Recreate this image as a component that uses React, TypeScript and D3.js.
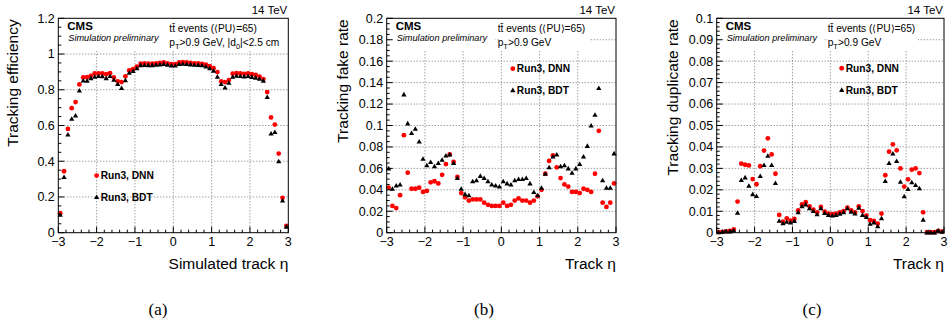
import React from "react";
import * as d3 from "d3";

// bin centres in eta (0.1 wide bins, -3..3)
const eta = [
  -2.95, -2.85, -2.75, -2.65, -2.55, -2.45, -2.35, -2.25, -2.15, -2.05,
  -1.95, -1.85, -1.75, -1.65, -1.55, -1.45, -1.35, -1.25, -1.15, -1.05,
  -0.95, -0.85, -0.75, -0.65, -0.55, -0.45, -0.35, -0.25, -0.15, -0.05,
  0.05, 0.15, 0.25, 0.35, 0.45, 0.55, 0.65, 0.75, 0.85, 0.95,
  1.05, 1.15, 1.25, 1.35, 1.45, 1.55, 1.65, 1.75, 1.85, 1.95,
  2.05, 2.15, 2.25, 2.35, 2.45, 2.55, 2.65, 2.75, 2.85, 2.95,
];

const effDnn = [
  0.109, 0.344, 0.581, 0.697, 0.731, 0.83, 0.869, 0.87, 0.878, 0.891,
  0.891, 0.891, 0.887, 0.893, 0.869, 0.847, 0.843, 0.875, 0.908, 0.915,
  0.93, 0.946, 0.947, 0.946, 0.946, 0.948, 0.951, 0.953, 0.948, 0.944,
  0.944, 0.953, 0.955, 0.953, 0.95, 0.948, 0.947, 0.945, 0.94, 0.932,
  0.921, 0.899, 0.847, 0.843, 0.854, 0.89, 0.893, 0.891, 0.889, 0.891,
  0.887, 0.883, 0.874, 0.86, 0.787, 0.645, 0.605, 0.443, 0.195, 0.038,
];
const effBdt = [
  0.1, 0.312, 0.55, 0.638, 0.656, 0.796, 0.852, 0.85, 0.865, 0.873,
  0.877, 0.876, 0.865, 0.877, 0.856, 0.832, 0.81, 0.854, 0.895, 0.905,
  0.92, 0.938, 0.939, 0.938, 0.938, 0.94, 0.942, 0.944, 0.94, 0.936,
  0.936, 0.944, 0.946, 0.944, 0.942, 0.94, 0.939, 0.937, 0.93, 0.92,
  0.907, 0.873, 0.832, 0.813, 0.839, 0.873, 0.879, 0.877, 0.875, 0.877,
  0.872, 0.868, 0.862, 0.851, 0.759, 0.555, 0.564, 0.4, 0.18, 0.034,
];

const fakeDnn = [
  0.042, 0.025, 0.023, 0.035, 0.091, 0.056, 0.041, 0.041, 0.042, 0.038,
  0.039, 0.047, 0.048, 0.046, 0.054, 0.064, 0.073, 0.066, 0.052, 0.037,
  0.033, 0.03, 0.031, 0.031, 0.031, 0.028, 0.026, 0.025, 0.025, 0.025,
  0.028, 0.025, 0.026, 0.03, 0.032, 0.03, 0.03, 0.028, 0.03, 0.034,
  0.04, 0.055, 0.067, 0.072, 0.061, 0.051, 0.045, 0.043, 0.038, 0.038,
  0.037, 0.041, 0.04, 0.038, 0.055, 0.095, 0.028, 0.024, 0.028, 0.046,
];
const fakeBdt = [
  0.06, 0.041, 0.044, 0.045, 0.129, 0.102, 0.093, 0.097, 0.085, 0.069,
  0.063, 0.066, 0.062, 0.065, 0.068, 0.072, 0.073, 0.065, 0.051, 0.041,
  0.036, 0.035, 0.048, 0.049, 0.053, 0.051, 0.048, 0.045, 0.044, 0.043,
  0.048, 0.046, 0.045, 0.049, 0.05, 0.05, 0.051, 0.046, 0.038, 0.035,
  0.042, 0.055, 0.061, 0.071, 0.073, 0.062, 0.063, 0.06, 0.056, 0.06,
  0.064, 0.071, 0.081, 0.1, 0.11, 0.135, 0.049, 0.042, 0.042, 0.074,
];

const dupDnn = [
  0.0003, 0.0004, 0.0006, 0.0008, 0.0015, 0.0145, 0.0322, 0.0317, 0.0314, 0.025,
  0.0226, 0.031, 0.0383, 0.044, 0.0365, 0.0275, 0.0083, 0.0051, 0.0067, 0.0056,
  0.0064, 0.0104, 0.0132, 0.0142, 0.0123, 0.0108, 0.0095, 0.012, 0.0098, 0.0089,
  0.0086, 0.0089, 0.0095, 0.0101, 0.0117, 0.0104, 0.0095, 0.0123, 0.0101, 0.008,
  0.0058, 0.0055, 0.0042, 0.0089, 0.0268, 0.0378, 0.0412, 0.0384, 0.03, 0.0215,
  0.0249, 0.0294, 0.03, 0.0278, 0.0095, 0.0002, 0.0002, 0.0002, 0.0008, 0.0005,
];
const dupBdt = [
  0.0002, 0.0004, 0.0007, 0.0006, 0.001, 0.0093, 0.0246, 0.0258, 0.0219, 0.018,
  0.0171, 0.0264, 0.0316, 0.0359, 0.0316, 0.0232, 0.0056, 0.0044, 0.0051, 0.0048,
  0.0055, 0.0095, 0.0123, 0.0132, 0.0114, 0.0101, 0.0086, 0.0114, 0.0092, 0.0083,
  0.008, 0.0083, 0.0089, 0.0095, 0.0114, 0.0098, 0.009, 0.0117, 0.0083, 0.0073,
  0.0042, 0.0048, 0.003, 0.0067, 0.0241, 0.0325, 0.0369, 0.0334, 0.0238, 0.017,
  0.0204, 0.0235, 0.0222, 0.0207, 0.0061, 0.0001, 0.0001, 0.0001, 0.001, 0.0004,
];

const seriesNames = ["Run3, DNN", "Run3, BDT"];

const SANS = "'Liberation Sans', Arial, Helvetica, sans-serif";
const TOP = 18.3;
const BOTTOM = 232.7;

const panels = [
  {
    id: "a", left: 58.3, right: 288.3, yMax: 1.2, nMajor: 6, nMinor: 24,
    ylabel: "Tracking efficiency", xlabel: "Simulated track η", yTitleX: 17.5,
    dnn: effDnn, bdt: effBdt, withD0: true,
    legend: [[-2, 0.32], [-2, 0.2]], caption: 158,
  },
  {
    id: "b", left: 386.7, right: 616, yMax: 0.2, nMajor: 10, nMinor: 40,
    ylabel: "Tracking fake rate", xlabel: "Track η", yTitleX: 348,
    dnn: fakeDnn, bdt: fakeBdt, withD0: false,
    legend: [[0.3, 0.153], [0.3, 0.133]], caption: 484,
  },
  {
    id: "c", left: 716.7, right: 944, yMax: 0.1, nMajor: 10, nMinor: 50,
    ylabel: "Tracking duplicate rate", xlabel: "Track η", yTitleX: 678,
    dnn: dupDnn, bdt: dupBdt, withD0: false,
    legend: [[0.3, 0.0767], [0.3, 0.0666]], caption: 812,
  },
];

const fmt = d3.format("~g");
const tri = d3.symbol(d3.symbolTriangle, 12)();

function Panel({ p }: { p: any }) {
  const x = d3.scaleLinear().domain([-3, 3]).range([p.left, p.right]);
  const y = d3.scaleLinear().domain([0, p.yMax]).range([BOTTOM, TOP]);
  const w = p.right - p.left;
  const xMajor = x.ticks(6);
  const xMinor = x.ticks(30);
  const yMajor = y.ticks(p.nMajor);
  const yMinor = y.ticks(p.nMinor);
  const tx = p.left + 111;

  return (
    <g>
      {/* dotted grid */}
      {xMajor.slice(1, -1).map((t) => (
        <line key={"gx" + t} x1={x(t)} x2={x(t)} y1={TOP} y2={BOTTOM}
          stroke="#777" strokeDasharray="1 2" />
      ))}
      {yMajor.slice(1, -1).map((t) => (
        <line key={"gy" + t} x1={p.left} x2={p.right} y1={y(t)} y2={y(t)}
          stroke="#777" strokeDasharray="1 2" />
      ))}
      {/* text boxes hide the grid at the top */}
      <rect x={p.left + 1} y={TOP + 0.5} width={w * 0.47} height={50 - TOP} fill="#fff" />
      <rect x={p.left + w * 0.49} y={TOP + 0.5} width={w * 0.395} height={50 - TOP} fill="#fff" />

      {/* markers */}
      {eta.map((e, i) => (
        <circle key={"d" + i} cx={x(e)} cy={y(p.dnn[i])} r={2.4} fill="#ff0000" />
      ))}
      {eta.map((e, i) => (
        <path key={"b" + i} d={tri} transform={`translate(${x(e)},${y(p.bdt[i]) + 0.5})`} fill="#000" />
      ))}

      {/* frame and ticks */}
      <rect x={p.left} y={TOP} width={w} height={BOTTOM - TOP} fill="none" stroke="#000" strokeWidth={1} />
      {xMinor.map((t) => (
        <line key={"tx" + t} x1={x(t)} x2={x(t)} y1={BOTTOM}
          y2={BOTTOM - (xMajor.includes(t) ? 6 : 3)} stroke="#000" />
      ))}
      {yMinor.map((t) => (
        <line key={"ty" + t} x1={p.left} y1={y(t)} y2={y(t)}
          x2={p.left + (yMajor.some((m) => Math.abs(m - t) < 1e-9) ? 6 : 3)} stroke="#000" />
      ))}
      {xMajor.map((t) => (
        <text key={"lx" + t} x={x(t)} y={246} textAnchor="middle" fontSize={12.5} fontFamily={SANS}>
          {fmt(t)}
        </text>
      ))}
      {yMajor.map((t) => (
        <text key={"ly" + t} x={p.left - 3.5} y={y(t) + 4.4} textAnchor="end" fontSize={12.5} fontFamily={SANS}>
          {fmt(t)}
        </text>
      ))}

      {/* axis titles */}
      <text x={p.right} y={269} textAnchor="end" fontSize={15.5} fontFamily={SANS}>{p.xlabel}</text>
      <text transform={`translate(${p.yTitleX},${TOP + 1}) rotate(-90)`} textAnchor="end"
        fontSize={15.5} fontFamily={SANS}>{p.ylabel}</text>

      {/* labels */}
      <text x={p.right - 1} y={13.5} textAnchor="end" fontSize={11.5} fontFamily={SANS}>14 TeV</text>
      <text x={p.left + 9} y={30} fontSize={11.5} fontWeight="bold" fontFamily={SANS}>CMS</text>
      <text x={p.left + 10} y={41.3} fontSize={9.2} fontStyle="italic" fontFamily={SANS}>Simulation preliminary</text>
      <text x={tx} y={32} fontSize={10.2} fontFamily={SANS}>tt̄ events (⟨PU⟩=65)</text>
      <text x={tx} y={45.5} fontSize={10.2} fontFamily={SANS}>
        p<tspan dy={3} fontSize={7.5}>T</tspan>
        <tspan dy={-3}>{p.withD0 ? ">0.9 GeV, |d" : ">0.9 GeV"}</tspan>
        {p.withD0 && <tspan dy={3} fontSize={7.5}>0</tspan>}
        {p.withD0 && <tspan dy={-3}>|&lt;2.5 cm</tspan>}
      </text>

      {/* legend */}
      <circle cx={x(p.legend[0][0])} cy={y(p.legend[0][1])} r={2.4} fill="#ff0000" />
      <text x={x(p.legend[0][0]) + 4} y={y(p.legend[0][1]) + 3.8} fontSize={10.2} fontWeight="bold" fontFamily={SANS}>
        {seriesNames[0]}
      </text>
      <path d={tri} transform={`translate(${x(p.legend[1][0])},${y(p.legend[1][1]) + 0.5})`} fill="#000" />
      <text x={x(p.legend[1][0]) + 4} y={y(p.legend[1][1]) + 3.8} fontSize={10.2} fontWeight="bold" fontFamily={SANS}>
        {seriesNames[1]}
      </text>

      <text x={p.caption} y={315} textAnchor="middle" fontSize={17}
        fontFamily="'Liberation Serif', 'Times New Roman', serif">({p.id})</text>
    </g>
  );
}

export default function App() {
  return (
    <svg width={952} height={327} style={{ position: "absolute", left: 0, top: 0, background: "#fff" }}>
      <rect width={952} height={327} fill="#fff" />
      {panels.map((p) => (
        <Panel key={p.id} p={p} />
      ))}
    </svg>
  );
}
